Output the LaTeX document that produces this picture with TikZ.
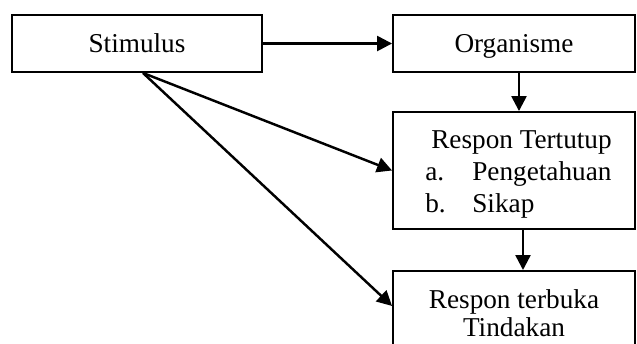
\documentclass[tikz,border=0pt]{standalone}
\usepackage{fontspec}
\setmainfont{Liberation Serif}
\usetikzlibrary{arrows.meta}
\tikzset{
	box/.style={draw, line width=1.1pt, minimum height=1.14cm, text depth=0pt,
		font=\fontsize{15.5}{18}\selectfont},
	link/.style={line width=1.4pt, -{Triangle[length=0.3cm, width=0.3cm]}},
	txt/.style={anchor=base, inner sep=0pt, font=\fontsize{15.5}{18}\selectfont}
}
% name, x, y, letter, text
\newcommand{\listitem}[5]{
	\node[txt, anchor=base west] (#1) at (#2, #3) {#4};
	\node[txt, anchor=base west] (#1text) at (#2 + 47, #3) {#5};
}

\begin{document}
\begin{tikzpicture}[x=0.02cm, y=-0.02cm]
\useasboundingbox (0,0) rectangle (637,343);

\node[box, minimum width=5cm] (stim) at (137,43.5) {Stimulus};
\node[box, minimum width=4.84cm] (org) at (514,43.5) {Organisme};

\node[box, minimum width=4.84cm, minimum height=2.34cm] (tertutup) at (514,170.5) {};
\node[txt] (tertutuptitle) at (521.5,148) {Respon Tertutup};
\listitem{itema}{425}{180}{a.}{Pengetahuan}
\listitem{itemb}{425}{212}{b.}{Sikap}

\node[box, minimum width=4.84cm, anchor=north, align=center, inner ysep=0.37cm,
	font=\fontsize{15.5}{16}\selectfont] (terbuka) at (514,270) {Respon terbuka\\Tindakan};

\draw[link] (stim) -- (org);
\draw[link] ([xshift=0.1cm]org.south) -- ([xshift=0.1cm]tertutup.north);
\draw[link] ([xshift=0.18cm]tertutup.south) -- ([xshift=0.18cm]terbuka.north);
\draw[link] ([xshift=0.12cm]stim.south) -- (tertutup.west);
\draw[link] ([xshift=0.12cm]stim.south) -- ([yshift=0.14cm]terbuka.west);
\end{tikzpicture}
\end{document}
